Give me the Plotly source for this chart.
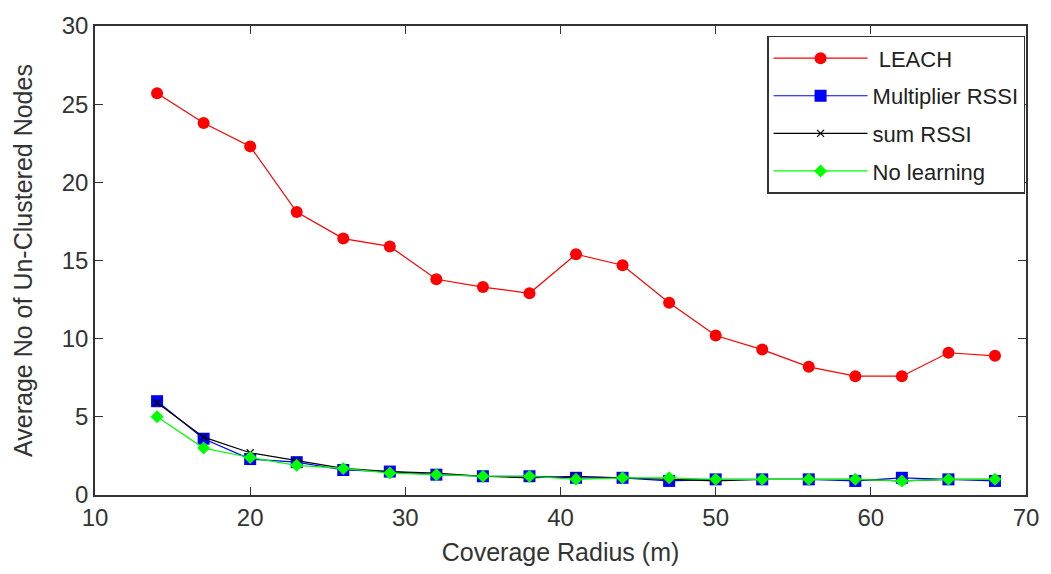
import plotly.graph_objects as go

radius = [14, 17, 20, 23, 26, 29, 32, 35, 38, 41, 44, 47, 50, 53, 56, 59, 62, 65, 68]
leach = [25.7, 23.8, 22.3, 18.1, 16.4, 15.9, 13.8, 13.3, 12.9, 15.4, 14.7, 12.3, 10.2, 9.3, 8.2, 7.6, 7.6, 9.1, 8.9]
mult_rssi = [6.0, 3.6, 2.3, 2.1, 1.6, 1.5, 1.3, 1.2, 1.2, 1.1, 1.1, 0.9, 1.0, 1.0, 1.0, 0.9, 1.1, 1.0, 0.9]
sum_rssi = [5.9, 3.7, 2.7, 2.2, 1.7, 1.5, 1.4, 1.2, 1.1, 1.2, 1.1, 1.0, 0.9, 1.0, 1.0, 1.0, 0.9, 1.0, 1.0]
no_learning = [5.0, 3.0, 2.4, 1.9, 1.7, 1.4, 1.3, 1.2, 1.2, 1.0, 1.1, 1.1, 1.0, 1.0, 1.0, 1.0, 0.9, 1.0, 1.0]

x_ticks = [10, 20, 30, 40, 50, 60, 70]
y_ticks = [0, 5, 10, 15, 20, 25, 30]

FONT = "Liberation Sans, Arial, sans-serif"

fig = go.Figure()
fig.add_trace(go.Scatter(x=radius, y=leach, name=" LEACH", mode="lines+markers", legendgroup="a",
                         line=dict(color="#ff0000", width=1.2),
                         marker=dict(symbol="circle", size=12, color="#ff0000")))
fig.add_trace(go.Scatter(x=radius, y=mult_rssi, name="Multiplier RSSI", mode="lines+markers", legendgroup="b",
                         line=dict(color="#0000ff", width=1.2),
                         marker=dict(symbol="square", size=12, color="#0000ff")))
fig.add_trace(go.Scatter(x=radius, y=sum_rssi, name="sum RSSI", mode="lines+markers", legendgroup="c",
                         line=dict(color="#000000", width=1.2),
                         marker=dict(symbol="x-thin", size=7, color="#000000",
                                     line=dict(color="#000000", width=1.2))))
fig.add_trace(go.Scatter(x=radius, y=no_learning, name="No learning", mode="lines+markers", legendgroup="d",
                         line=dict(color="#00ff00", width=1.2),
                         marker=dict(symbol="diamond", size=10, color="#00ff00")))

axis_common = dict(showline=True, linecolor="#333333", linewidth=1.5, mirror="ticks",
                   ticks="inside", ticklen=8, tickcolor="#333333", showgrid=False,
                   zeroline=False, tickfont=dict(family=FONT, size=24, color="#333"))

fig.update_xaxes(range=[10, 70], tickvals=x_ticks, ticktext=[str(v) for v in x_ticks],
                 title=dict(text="Coverage Radius (m)", font=dict(family=FONT, size=25, color="#333"), standoff=14),
                 **axis_common)
fig.update_yaxes(range=[0, 30], tickvals=y_ticks, ticktext=[str(v) for v in y_ticks],
                 title=dict(text="Average No of Un-Clustered Nodes", font=dict(family=FONT, size=25, color="#333"), standoff=22),
                 **axis_common)

fig.update_layout(
    width=1051, height=574,
    margin=dict(l=95, r=16, t=25, b=79),
    paper_bgcolor="white", plot_bgcolor="white",
    legend=dict(x=0.999, y=0.979, xanchor="right", yanchor="top",
                bordercolor="#333333", borderwidth=1.5, bgcolor="white",
                font=dict(family=FONT, size=22, color="#222"),
                tracegroupgap=6, itemwidth=94),
    showlegend=True,
)

fig.write_html("out.html")
